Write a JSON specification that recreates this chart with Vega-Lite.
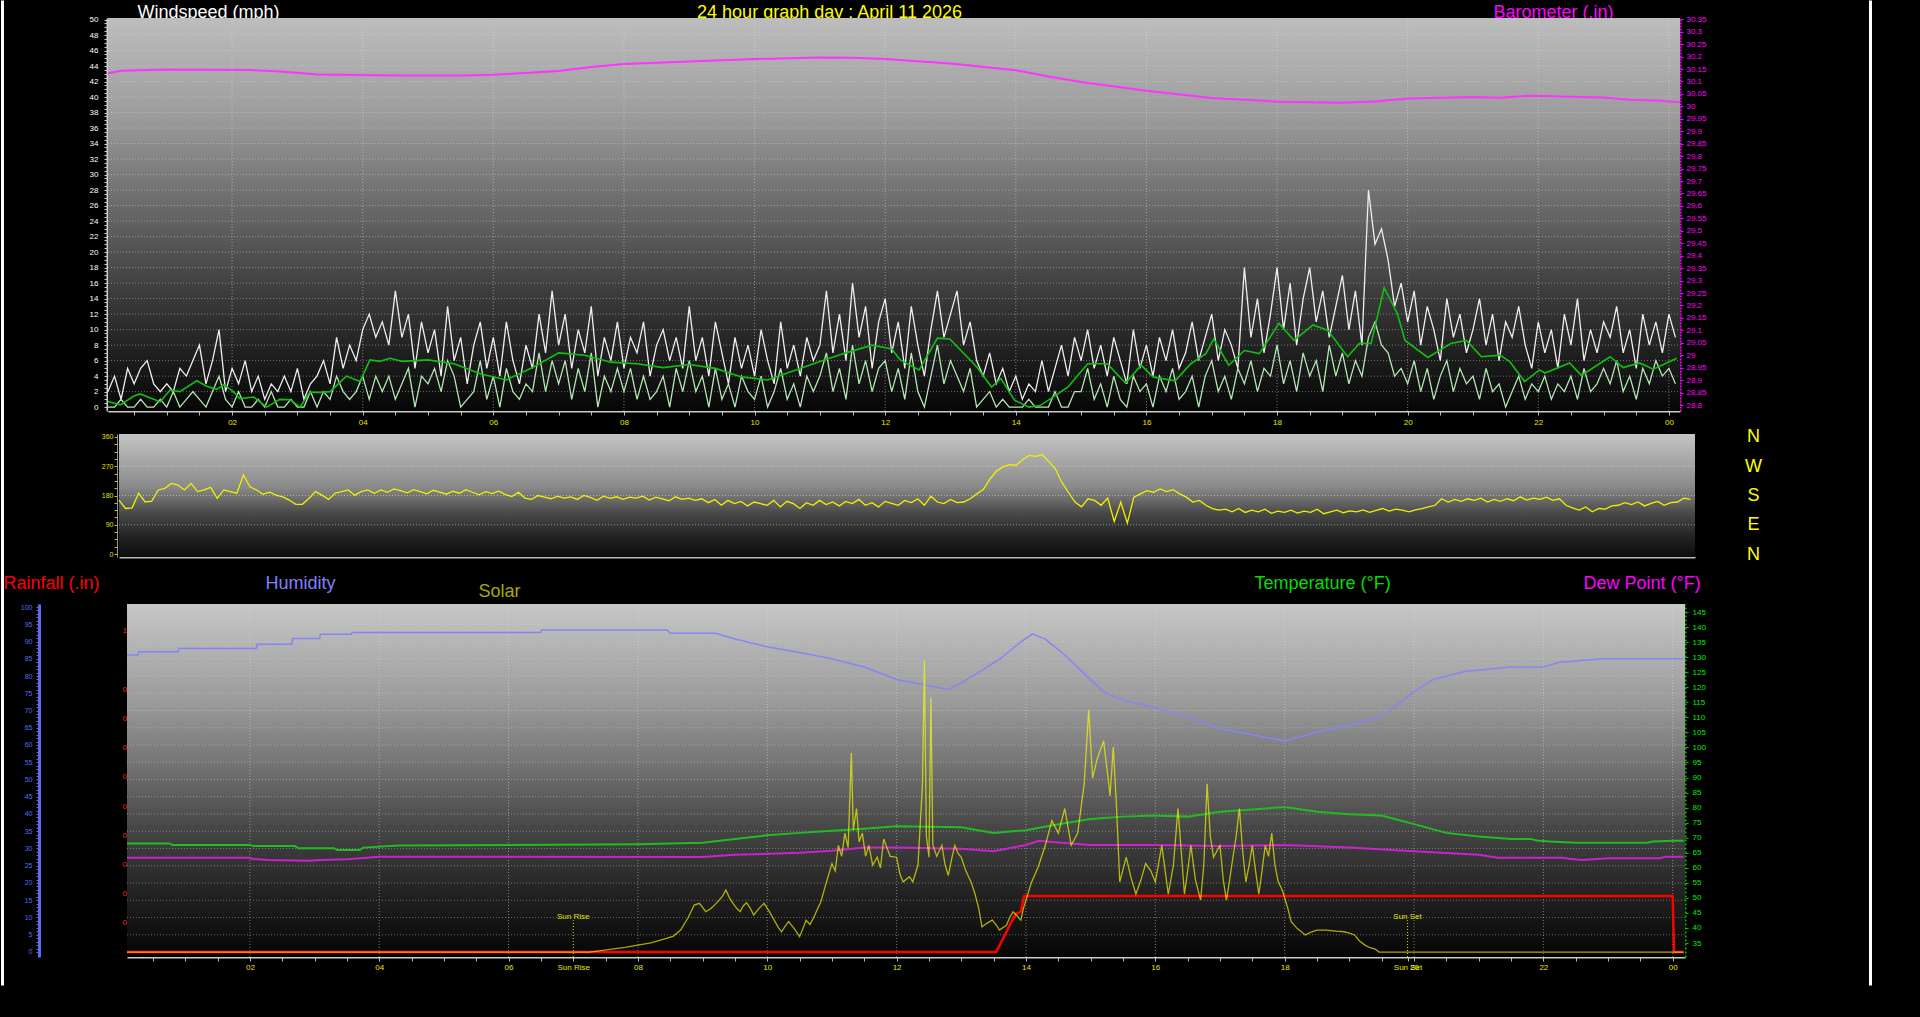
{
"$schema": "https://vega.github.io/schema/vega-lite/v6.json",
"width": 1920, "height": 1017, "padding": 0, "autosize": {"type": "none"},
"background": "#000000",
"config": {"view": {"stroke": null}, "axis": {"labelFont": "Liberation Sans", "titleFont": "Liberation Sans", "titleFontWeight": "normal", "zindex": 1, "labelOverlap": false, "labelFlush": false, "grid": false, "titleAngle": 0, "titleFontSize": 18, "titleBaseline": "alphabetic", "labelFontSize": 8}},
"datasets": {
"wind": [
{"h":0.1,"g":2,"a":0,"d":166},{"h":0.2,"g":4,"a":0,"d":140},{"h":0.3,"g":1,"a":1,"d":142},{"h":0.4,"g":5,"a":0,"d":187},{"h":0.5,"g":3,"a":0,"d":160},{"h":0.6,"g":5,"a":1,"d":163},{"h":0.7,"g":6,"a":0,"d":197},{"h":0.8,"g":3,"a":0,"d":202},{"h":0.9,"g":2,"a":1,"d":217},
{"h":1.0,"g":3,"a":0,"d":212},{"h":1.1,"g":2,"a":2,"d":197},{"h":1.2,"g":5,"a":0,"d":217},{"h":1.3,"g":4,"a":1,"d":192},{"h":1.4,"g":6,"a":2,"d":197},{"h":1.5,"g":8,"a":1,"d":205},{"h":1.6,"g":3,"a":0,"d":171},{"h":1.7,"g":6,"a":2,"d":197},{"h":1.8,"g":10,"a":4,"d":192},{"h":1.9,"g":2,"a":1,"d":187},
{"h":2.0,"g":5,"a":0,"d":243},{"h":2.1,"g":3,"a":2,"d":207},{"h":2.2,"g":6,"a":0,"d":197},{"h":2.3,"g":2,"a":0,"d":184},{"h":2.4,"g":4,"a":1,"d":190},{"h":2.5,"g":1,"a":0,"d":181},{"h":2.6,"g":3,"a":2,"d":176},{"h":2.7,"g":2,"a":0,"d":166},{"h":2.8,"g":4,"a":0,"d":153},{"h":2.9,"g":2,"a":1,"d":153},
{"h":3.0,"g":5,"a":0,"d":171},{"h":3.1,"g":1,"a":0,"d":192},{"h":3.2,"g":3,"a":2,"d":181},{"h":3.3,"g":4,"a":0,"d":168},{"h":3.4,"g":6,"a":2,"d":187},{"h":3.5,"g":3,"a":1,"d":192},{"h":3.6,"g":9,"a":4,"d":197},{"h":3.7,"g":5,"a":2,"d":181},{"h":3.8,"g":8,"a":1,"d":192},{"h":3.9,"g":6,"a":2,"d":197},
{"h":4.0,"g":10,"a":4,"d":187},{"h":4.1,"g":12,"a":1,"d":197},{"h":4.2,"g":9,"a":4,"d":190},{"h":4.3,"g":11,"a":2,"d":200},{"h":4.4,"g":8,"a":4,"d":195},{"h":4.5,"g":15,"a":1,"d":188},{"h":4.6,"g":9,"a":3,"d":198},{"h":4.7,"g":12,"a":5,"d":192},{"h":4.8,"g":5,"a":0,"d":185},{"h":4.9,"g":11,"a":4,"d":196},
{"h":5.0,"g":7,"a":3,"d":190},{"h":5.1,"g":10,"a":5,"d":184},{"h":5.2,"g":4,"a":2,"d":193},{"h":5.3,"g":13,"a":6,"d":187},{"h":5.4,"g":6,"a":4,"d":198},{"h":5.5,"g":9,"a":0,"d":190},{"h":5.6,"g":3,"a":1,"d":182},{"h":5.7,"g":8,"a":2,"d":192},{"h":5.8,"g":11,"a":6,"d":186},{"h":5.9,"g":5,"a":1,"d":194},
{"h":6.0,"g":9,"a":4,"d":183},{"h":6.1,"g":4,"a":0,"d":177},{"h":6.2,"g":11,"a":5,"d":190},{"h":6.3,"g":6,"a":2,"d":172},{"h":6.4,"g":3,"a":1,"d":168},{"h":6.5,"g":8,"a":3,"d":180},{"h":6.6,"g":5,"a":2,"d":175},{"h":6.7,"g":12,"a":7,"d":170},{"h":6.8,"g":7,"a":2,"d":178},{"h":6.9,"g":15,"a":6,"d":172},
{"h":7.0,"g":8,"a":3,"d":176},{"h":7.1,"g":12,"a":6,"d":168},{"h":7.2,"g":5,"a":1,"d":180},{"h":7.3,"g":10,"a":5,"d":174},{"h":7.4,"g":7,"a":2,"d":165},{"h":7.5,"g":13,"a":7,"d":178},{"h":7.6,"g":4,"a":0,"d":171},{"h":7.7,"g":9,"a":4,"d":176},{"h":7.8,"g":6,"a":2,"d":168},{"h":7.9,"g":11,"a":5,"d":175},
{"h":8.0,"g":5,"a":2,"d":172},{"h":8.1,"g":9,"a":5,"d":178},{"h":8.2,"g":7,"a":1,"d":166},{"h":8.3,"g":11,"a":4,"d":175},{"h":8.4,"g":4,"a":1,"d":170},{"h":8.5,"g":8,"a":2,"d":164},{"h":8.6,"g":10,"a":4,"d":176},{"h":8.7,"g":6,"a":0,"d":168},{"h":8.8,"g":9,"a":5,"d":172},{"h":8.9,"g":5,"a":2,"d":165},
{"h":9.0,"g":13,"a":6,"d":170},{"h":9.1,"g":6,"a":2,"d":158},{"h":9.2,"g":9,"a":4,"d":168},{"h":9.3,"g":4,"a":0,"d":150},{"h":9.4,"g":11,"a":5,"d":165},{"h":9.5,"g":7,"a":1,"d":155},{"h":9.6,"g":3,"a":3,"d":162},{"h":9.7,"g":9,"a":0,"d":148},{"h":9.8,"g":5,"a":4,"d":160},{"h":9.9,"g":8,"a":2,"d":155},
{"h":10.0,"g":4,"a":1,"d":150},{"h":10.1,"g":10,"a":4,"d":165},{"h":10.2,"g":6,"a":0,"d":145},{"h":10.3,"g":3,"a":2,"d":162},{"h":10.4,"g":11,"a":5,"d":155},{"h":10.5,"g":5,"a":1,"d":140},{"h":10.6,"g":8,"a":3,"d":158},{"h":10.7,"g":4,"a":0,"d":150},{"h":10.8,"g":9,"a":4,"d":165},{"h":10.9,"g":6,"a":2,"d":152},
{"h":11.0,"g":8,"a":4,"d":160},{"h":11.1,"g":15,"a":7,"d":148},{"h":11.2,"g":7,"a":2,"d":162},{"h":11.3,"g":12,"a":5,"d":155},{"h":11.4,"g":6,"a":1,"d":168},{"h":11.5,"g":16,"a":8,"d":150},{"h":11.6,"g":9,"a":3,"d":158},{"h":11.7,"g":13,"a":6,"d":145},{"h":11.8,"g":5,"a":2,"d":162},{"h":11.9,"g":11,"a":5,"d":156},
{"h":12.0,"g":14,"a":6,"d":150},{"h":12.1,"g":7,"a":2,"d":165},{"h":12.2,"g":11,"a":5,"d":158},{"h":12.3,"g":5,"a":1,"d":170},{"h":12.4,"g":13,"a":7,"d":150},{"h":12.5,"g":8,"a":2,"d":178},{"h":12.6,"g":4,"a":0,"d":160},{"h":12.7,"g":10,"a":4,"d":155},{"h":12.8,"g":15,"a":8,"d":168},{"h":12.9,"g":9,"a":3,"d":158},
{"h":13.0,"g":12,"a":6,"d":160},{"h":13.1,"g":15,"a":4,"d":170},{"h":13.2,"g":8,"a":2,"d":185},{"h":13.3,"g":11,"a":5,"d":198},{"h":13.4,"g":6,"a":0,"d":230},{"h":13.5,"g":4,"a":1,"d":255},{"h":13.6,"g":7,"a":2,"d":268},{"h":13.7,"g":3,"a":0,"d":275},{"h":13.8,"g":5,"a":1,"d":273},{"h":13.9,"g":2,"a":0,"d":290},
{"h":14.0,"g":4,"a":0,"d":303},{"h":14.1,"g":1,"a":0,"d":300},{"h":14.2,"g":3,"a":1,"d":305},{"h":14.3,"g":2,"a":0,"d":285},{"h":14.4,"g":6,"a":0,"d":262},{"h":14.5,"g":2,"a":0,"d":220},{"h":14.6,"g":5,"a":2,"d":190},{"h":14.7,"g":8,"a":0,"d":160},{"h":14.8,"g":4,"a":0,"d":145},{"h":14.9,"g":9,"a":2,"d":170},
{"h":15.0,"g":6,"a":2,"d":165},{"h":15.1,"g":10,"a":5,"d":150},{"h":15.2,"g":5,"a":1,"d":172},{"h":15.3,"g":8,"a":3,"d":100},{"h":15.4,"g":4,"a":0,"d":160},{"h":15.5,"g":9,"a":4,"d":95},{"h":15.6,"g":6,"a":1,"d":175},{"h":15.7,"g":3,"a":0,"d":185},{"h":15.8,"g":10,"a":4,"d":195},{"h":15.9,"g":5,"a":2,"d":190},
{"h":16.0,"g":8,"a":3,"d":200},{"h":16.1,"g":4,"a":0,"d":192},{"h":16.2,"g":9,"a":4,"d":198},{"h":16.3,"g":6,"a":2,"d":185},{"h":16.4,"g":10,"a":5,"d":175},{"h":16.5,"g":5,"a":1,"d":160},{"h":16.6,"g":7,"a":2,"d":165},{"h":16.7,"g":11,"a":4,"d":150},{"h":16.8,"g":6,"a":0,"d":140},{"h":16.9,"g":9,"a":4,"d":135},
{"h":17.0,"g":12,"a":6,"d":138},{"h":17.1,"g":6,"a":2,"d":130},{"h":17.2,"g":10,"a":4,"d":140},{"h":17.3,"g":8,"a":1,"d":128},{"h":17.4,"g":5,"a":5,"d":135},{"h":17.5,"g":18,"a":3,"d":130},{"h":17.6,"g":9,"a":6,"d":138},{"h":17.7,"g":14,"a":2,"d":125},{"h":17.8,"g":7,"a":5,"d":132},{"h":17.9,"g":12,"a":4,"d":128},
{"h":18.0,"g":18,"a":8,"d":135},{"h":18.1,"g":10,"a":3,"d":126},{"h":18.2,"g":16,"a":6,"d":132},{"h":18.3,"g":8,"a":2,"d":128},{"h":18.4,"g":14,"a":7,"d":138},{"h":18.5,"g":18,"a":4,"d":124},{"h":18.6,"g":11,"a":6,"d":130},{"h":18.7,"g":15,"a":2,"d":135},{"h":18.8,"g":9,"a":8,"d":127},{"h":18.9,"g":13,"a":4,"d":133},
{"h":19.0,"g":17,"a":7,"d":130},{"h":19.1,"g":10,"a":3,"d":136},{"h":19.2,"g":15,"a":6,"d":128},{"h":19.3,"g":8,"a":4,"d":134},{"h":19.4,"g":28,"a":9,"d":140},{"h":19.5,"g":21,"a":11,"d":132},{"h":19.6,"g":23,"a":8,"d":138},{"h":19.7,"g":19,"a":7,"d":135},{"h":19.8,"g":13,"a":4,"d":130},{"h":19.9,"g":16,"a":5,"d":136},
{"h":20.0,"g":11,"a":3,"d":140},{"h":20.1,"g":15,"a":6,"d":145},{"h":20.2,"g":8,"a":2,"d":150},{"h":20.3,"g":13,"a":5,"d":170},{"h":20.4,"g":10,"a":1,"d":160},{"h":20.5,"g":6,"a":4,"d":168},{"h":20.6,"g":14,"a":6,"d":162},{"h":20.7,"g":9,"a":2,"d":170},{"h":20.8,"g":12,"a":5,"d":165},{"h":20.9,"g":7,"a":3,"d":172},
{"h":21.0,"g":10,"a":4,"d":160},{"h":21.1,"g":14,"a":1,"d":168},{"h":21.2,"g":8,"a":5,"d":162},{"h":21.3,"g":12,"a":2,"d":170},{"h":21.4,"g":6,"a":3,"d":164},{"h":21.5,"g":11,"a":0,"d":176},{"h":21.6,"g":9,"a":2,"d":166},{"h":21.7,"g":13,"a":4,"d":172},{"h":21.8,"g":8,"a":1,"d":168},{"h":21.9,"g":5,"a":3,"d":175},
{"h":22.0,"g":11,"a":2,"d":165},{"h":22.1,"g":7,"a":4,"d":170},{"h":22.2,"g":10,"a":1,"d":150},{"h":22.3,"g":5,"a":3,"d":142},{"h":22.4,"g":12,"a":2,"d":135},{"h":22.5,"g":8,"a":4,"d":145},{"h":22.6,"g":14,"a":1,"d":130},{"h":22.7,"g":6,"a":5,"d":140},{"h":22.8,"g":10,"a":2,"d":138},{"h":22.9,"g":7,"a":3,"d":148},
{"h":23.0,"g":11,"a":5,"d":150},{"h":23.1,"g":9,"a":3,"d":158},{"h":23.2,"g":13,"a":6,"d":152},{"h":23.3,"g":7,"a":2,"d":160},{"h":23.4,"g":10,"a":4,"d":148},{"h":23.5,"g":5,"a":1,"d":156},{"h":23.6,"g":12,"a":5,"d":162},{"h":23.7,"g":8,"a":3,"d":150},{"h":23.8,"g":11,"a":6,"d":158},{"h":23.9,"g":7,"a":4,"d":160},
{"h":24.0,"g":12,"a":5,"d":172},{"h":24.1,"g":9,"a":3,"d":168}
],
"smooth": [
{"h":0.1,"v":0.73},{"h":0.29,"v":0.3},{"h":0.49,"v":1.4},{"h":0.59,"v":1.7},{"h":0.74,"v":1.2},{"h":0.9,"v":0.7},{"h":1.05,"v":2.2},{"h":1.2,"v":2.0},{"h":1.46,"v":3.4},{"h":1.61,"v":2.7},{"h":1.77,"v":2.3},{"h":1.87,"v":2.9},{"h":2.02,"v":2.0},{"h":2.12,"v":1.1},{"h":2.33,"v":1.3},{"h":2.53,"v":0},{"h":2.73,"v":1.0},{"h":2.89,"v":0.95},{"h":3.04,"v":0},{"h":3.19,"v":1.9},{"h":3.35,"v":1.9},{"h":3.5,"v":2.0},{"h":3.75,"v":4.0},{"h":3.96,"v":3.3},{"h":4.11,"v":6.1},{"h":4.26,"v":5.9},{"h":4.42,"v":6.3},{"h":4.6,"v":5.9},{"h":5.0,"v":6.1},{"h":5.4,"v":5.6},{"h":5.8,"v":4.3},{"h":6.2,"v":3.5},{"h":6.6,"v":5.1},{"h":7.0,"v":7.0},{"h":7.4,"v":6.7},{"h":7.8,"v":5.8},{"h":8.2,"v":5.6},{"h":8.6,"v":5.1},{"h":9.0,"v":5.5},{"h":9.4,"v":5.0},{"h":9.8,"v":3.9},{"h":10.2,"v":3.5},{"h":10.6,"v":4.7},{"h":11.0,"v":5.9},{"h":11.4,"v":7.0},{"h":11.8,"v":8.0},{"h":12.1,"v":7.5},{"h":12.23,"v":6.1},{"h":12.52,"v":4.8},{"h":12.8,"v":8.9},{"h":12.99,"v":8.8},{"h":13.4,"v":5.2},{"h":13.63,"v":2.6},{"h":13.77,"v":3.7},{"h":13.98,"v":0.9},{"h":14.2,"v":0},{"h":14.37,"v":0.2},{"h":14.57,"v":1.3},{"h":14.8,"v":2.6},{"h":15.1,"v":5.6},{"h":15.4,"v":5.6},{"h":15.68,"v":3.1},{"h":15.92,"v":5.4},{"h":16.1,"v":3.9},{"h":16.44,"v":3.4},{"h":16.68,"v":5.6},{"h":16.91,"v":6.9},{"h":17.03,"v":8.8},{"h":17.26,"v":5.4},{"h":17.5,"v":7.3},{"h":17.73,"v":6.9},{"h":18.03,"v":10.8},{"h":18.26,"v":8.6},{"h":18.55,"v":10.6},{"h":18.78,"v":9.9},{"h":19.08,"v":6.5},{"h":19.26,"v":8.2},{"h":19.44,"v":8.2},{"h":19.64,"v":15.4},{"h":19.84,"v":12.1},{"h":19.96,"v":8.6},{"h":20.31,"v":6.4},{"h":20.66,"v":8.2},{"h":20.9,"v":8.6},{"h":21.13,"v":6.5},{"h":21.41,"v":6.7},{"h":21.56,"v":5.9},{"h":21.79,"v":3.3},{"h":22.02,"v":4.8},{"h":22.1,"v":4.4},{"h":22.48,"v":5.7},{"h":22.66,"v":4.1},{"h":23.1,"v":6.5},{"h":23.3,"v":5.1},{"h":23.55,"v":5.7},{"h":23.76,"v":4.9},{"h":24.12,"v":6.3}
],
"baro": [
{"h":0.1,"p":30.133},{"h":0.3,"p":30.143},{"h":1.0,"p":30.148},{"h":2.3,"p":30.146},{"h":2.6,"p":30.142},{"h":3.0,"p":30.135},{"h":3.3,"p":30.128},{"h":4.6,"p":30.124},{"h":5.5,"p":30.124},{"h":6.0,"p":30.127},{"h":7.0,"p":30.142},{"h":7.5,"p":30.158},{"h":8.0,"p":30.17},{"h":9.0,"p":30.18},{"h":10.0,"p":30.19},{"h":11.0,"p":30.196},{"h":11.5,"p":30.195},{"h":12.0,"p":30.19},{"h":13.0,"p":30.172},{"h":14.0,"p":30.145},{"h":14.5,"p":30.12},{"h":15.0,"p":30.098},{"h":16.0,"p":30.063},{"h":17.0,"p":30.034},{"h":18.0,"p":30.019},{"h":19.0,"p":30.014},{"h":19.5,"p":30.02},{"h":20.0,"p":30.032},{"h":21.0,"p":30.038},{"h":21.4,"p":30.035},{"h":21.9,"p":30.043},{"h":22.5,"p":30.039},{"h":23.0,"p":30.036},{"h":23.4,"p":30.027},{"h":23.8,"p":30.024},{"h":24.17,"p":30.017}
],
"hum": [
{"h":0.1,"v":86.1},{"h":0.27,"v":86.1},{"h":0.28,"v":87.0},{"h":0.89,"v":87.0},{"h":0.9,"v":88.0},{"h":2.1,"v":88.0},{"h":2.11,"v":89.2},{"h":2.65,"v":89.2},{"h":2.66,"v":90.9},{"h":3.08,"v":90.9},{"h":3.09,"v":92.1},{"h":3.57,"v":92.1},{"h":3.58,"v":92.6},{"h":6.5,"v":92.6},{"h":6.51,"v":93.3},{"h":8.45,"v":93.3},{"h":8.5,"v":92.4},{"h":9.2,"v":92.4},{"h":9.5,"v":90.7},{"h":10.0,"v":88.5},{"h":10.5,"v":86.8},{"h":11.0,"v":85.0},{"h":11.5,"v":82.6},{"h":12.0,"v":79.0},{"h":12.5,"v":77.2},{"h":12.8,"v":76.1},{"h":13.0,"v":78.0},{"h":13.3,"v":81.4},{"h":13.6,"v":85.0},{"h":13.9,"v":89.6},{"h":14.1,"v":92.2},{"h":14.3,"v":90.7},{"h":14.6,"v":86.1},{"h":14.9,"v":80.7},{"h":15.2,"v":75.4},{"h":15.5,"v":73.0},{"h":16.0,"v":70.8},{"h":16.5,"v":68.3},{"h":17.0,"v":64.8},{"h":17.5,"v":63.0},{"h":18.0,"v":61.2},{"h":18.5,"v":63.7},{"h":19.0,"v":65.8},{"h":19.5,"v":68.3},{"h":20.0,"v":75.4},{"h":20.3,"v":79.0},{"h":20.8,"v":81.4},{"h":21.5,"v":82.6},{"h":22.0,"v":82.6},{"h":22.25,"v":84.0},{"h":22.9,"v":85.0},{"h":24.17,"v":85.0}
],
"temp": [
{"h":0.1,"v":68.1},{"h":0.76,"v":68.1},{"h":0.8,"v":67.6},{"h":2.0,"v":67.6},{"h":2.05,"v":67.2},{"h":2.7,"v":67.2},{"h":2.75,"v":66.5},{"h":3.3,"v":66.5},{"h":3.35,"v":65.9},{"h":3.7,"v":65.9},{"h":3.75,"v":66.7},{"h":4.3,"v":67.4},{"h":6.0,"v":67.6},{"h":8.0,"v":67.8},{"h":9.0,"v":68.3},{"h":9.5,"v":69.6},{"h":10.0,"v":70.8},{"h":10.5,"v":71.6},{"h":11.0,"v":72.3},{"h":11.5,"v":73.0},{"h":12.0,"v":73.8},{"h":13.0,"v":73.5},{"h":13.5,"v":71.6},{"h":14.0,"v":72.5},{"h":14.5,"v":74.5},{"h":15.0,"v":76.2},{"h":15.5,"v":77.0},{"h":16.0,"v":77.4},{"h":16.5,"v":77.0},{"h":17.0,"v":78.6},{"h":17.5,"v":79.4},{"h":18.0,"v":80.2},{"h":18.5,"v":78.6},{"h":19.0,"v":77.8},{"h":19.5,"v":77.4},{"h":20.0,"v":74.5},{"h":20.5,"v":71.6},{"h":21.0,"v":70.4},{"h":21.5,"v":69.6},{"h":21.8,"v":69.6},{"h":21.9,"v":69.1},{"h":22.1,"v":68.7},{"h":22.5,"v":68.3},{"h":23.6,"v":68.3},{"h":23.7,"v":68.7},{"h":24.0,"v":69.0},{"h":24.17,"v":69.0}
],
"dew": [
{"h":0.1,"v":63.3},{"h":2.0,"v":63.3},{"h":2.05,"v":62.9},{"h":2.3,"v":62.6},{"h":2.9,"v":62.3},{"h":3.1,"v":62.6},{"h":3.5,"v":62.8},{"h":4.0,"v":63.7},{"h":9.0,"v":63.6},{"h":9.5,"v":64.3},{"h":10.5,"v":65.0},{"h":11.0,"v":65.7},{"h":11.5,"v":66.7},{"h":12.0,"v":66.7},{"h":13.0,"v":66.3},{"h":13.5,"v":65.5},{"h":14.0,"v":67.6},{"h":14.2,"v":69.0},{"h":14.5,"v":68.4},{"h":15.0,"v":67.6},{"h":16.0,"v":67.6},{"h":17.0,"v":67.2},{"h":18.0,"v":67.6},{"h":19.0,"v":66.7},{"h":20.0,"v":65.5},{"h":21.0,"v":64.3},{"h":21.3,"v":63.3},{"h":22.3,"v":63.3},{"h":22.4,"v":63.0},{"h":22.6,"v":62.6},{"h":23.0,"v":63.2},{"h":23.8,"v":63.2},{"h":23.9,"v":63.7},{"h":24.17,"v":63.7}
],
"rain": [
{"h":0.1,"r":0},{"h":13.54,"r":0},{"h":13.65,"r":0.048},{"h":13.75,"r":0.092},{"h":13.84,"r":0.13},{"h":13.92,"r":0.138},{"h":13.97,"r":0.192},{"h":24.0,"r":0.192},{"h":24.02,"r":0},{"h":24.17,"r":0}
],
"solar": [
{"h":0.1,"s":0},{"h":7.25,"s":0},{"h":7.4,"s":4},{"h":7.57,"s":9},{"h":7.8,"s":16},{"h":8.0,"s":24},{"h":8.2,"s":32},{"h":8.44,"s":47},{"h":8.55,"s":55},{"h":8.66,"s":76},{"h":8.78,"s":120},{"h":8.87,"s":162},{"h":8.95,"s":168},{"h":9.05,"s":139},{"h":9.13,"s":150},{"h":9.21,"s":168},{"h":9.3,"s":190},{"h":9.36,"s":214},{"h":9.42,"s":185},{"h":9.47,"s":168},{"h":9.53,"s":150},{"h":9.58,"s":139},{"h":9.63,"s":160},{"h":9.68,"s":170},{"h":9.74,"s":150},{"h":9.79,"s":128},{"h":9.87,"s":150},{"h":9.95,"s":168},{"h":10.03,"s":140},{"h":10.12,"s":105},{"h":10.17,"s":85},{"h":10.22,"s":70},{"h":10.28,"s":90},{"h":10.33,"s":105},{"h":10.42,"s":80},{"h":10.5,"s":53},{"h":10.55,"s":80},{"h":10.6,"s":110},{"h":10.66,"s":95},{"h":10.72,"s":120},{"h":10.78,"s":150},{"h":10.83,"s":174},{"h":10.9,"s":230},{"h":10.94,"s":260},{"h":11.0,"s":305},{"h":11.05,"s":280},{"h":11.1,"s":368},{"h":11.15,"s":330},{"h":11.2,"s":410},{"h":11.25,"s":360},{"h":11.3,"s":686},{"h":11.33,"s":420},{"h":11.38,"s":495},{"h":11.42,"s":380},{"h":11.47,"s":410},{"h":11.52,"s":330},{"h":11.57,"s":368},{"h":11.63,"s":300},{"h":11.7,"s":327},{"h":11.75,"s":290},{"h":11.8,"s":390},{"h":11.85,"s":360},{"h":11.9,"s":330},{"h":12.0,"s":327},{"h":12.05,"s":270},{"h":12.1,"s":242},{"h":12.2,"s":260},{"h":12.25,"s":242},{"h":12.33,"s":300},{"h":12.4,"s":580},{"h":12.43,"s":1004},{"h":12.46,"s":400},{"h":12.5,"s":327},{"h":12.53,"s":877},{"h":12.56,"s":370},{"h":12.62,"s":330},{"h":12.7,"s":368},{"h":12.75,"s":300},{"h":12.8,"s":264},{"h":12.85,"s":320},{"h":12.9,"s":368},{"h":12.95,"s":340},{"h":13.0,"s":327},{"h":13.07,"s":280},{"h":13.15,"s":242},{"h":13.21,"s":202},{"h":13.27,"s":150},{"h":13.32,"s":87},{"h":13.4,"s":100},{"h":13.48,"s":110},{"h":13.55,"s":90},{"h":13.59,"s":76},{"h":13.65,"s":85},{"h":13.7,"s":93},{"h":13.75,"s":120},{"h":13.8,"s":139},{"h":13.86,"s":125},{"h":13.92,"s":110},{"h":13.96,"s":150},{"h":14.0,"s":179},{"h":14.08,"s":237},{"h":14.19,"s":294},{"h":14.3,"s":368},{"h":14.4,"s":453},{"h":14.5,"s":410},{"h":14.6,"s":495},{"h":14.7,"s":368},{"h":14.8,"s":410},{"h":14.9,"s":580},{"h":14.97,"s":835},{"h":15.03,"s":600},{"h":15.1,"s":665},{"h":15.2,"s":728},{"h":15.27,"s":600},{"h":15.3,"s":538},{"h":15.35,"s":707},{"h":15.4,"s":500},{"h":15.45,"s":242},{"h":15.55,"s":327},{"h":15.62,"s":260},{"h":15.7,"s":200},{"h":15.78,"s":250},{"h":15.85,"s":305},{"h":15.93,"s":280},{"h":16.0,"s":242},{"h":16.1,"s":368},{"h":16.2,"s":200},{"h":16.28,"s":300},{"h":16.35,"s":495},{"h":16.4,"s":350},{"h":16.45,"s":200},{"h":16.5,"s":280},{"h":16.55,"s":368},{"h":16.62,"s":250},{"h":16.7,"s":179},{"h":16.75,"s":300},{"h":16.8,"s":580},{"h":16.85,"s":400},{"h":16.9,"s":327},{"h":17.0,"s":368},{"h":17.05,"s":250},{"h":17.1,"s":179},{"h":17.15,"s":250},{"h":17.2,"s":327},{"h":17.25,"s":400},{"h":17.3,"s":495},{"h":17.35,"s":350},{"h":17.4,"s":242},{"h":17.45,"s":300},{"h":17.5,"s":368},{"h":17.55,"s":280},{"h":17.6,"s":200},{"h":17.65,"s":280},{"h":17.7,"s":368},{"h":17.75,"s":330},{"h":17.8,"s":410},{"h":17.85,"s":300},{"h":17.9,"s":242},{"h":17.95,"s":220},{"h":17.98,"s":202},{"h":18.05,"s":150},{"h":18.1,"s":105},{"h":18.2,"s":80},{"h":18.32,"s":59},{"h":18.42,"s":70},{"h":18.5,"s":76},{"h":18.64,"s":76},{"h":18.8,"s":72},{"h":18.92,"s":70},{"h":19.0,"s":65},{"h":19.08,"s":59},{"h":19.15,"s":40},{"h":19.24,"s":24},{"h":19.32,"s":15},{"h":19.4,"s":10},{"h":19.46,"s":0},{"h":24.17,"s":0}
],
"sun": [{"h":7.0,"t":"Sun Rise"},{"h":19.9,"t":"Sun Set"}],
"gridHours": [{"v":2},{"v":4},{"v":6},{"v":8},{"v":10},{"v":12},{"v":14},{"v":16},{"v":18},{"v":20},{"v":22},{"v":24}],
"gridWind": [{"v":2},{"v":4},{"v":6},{"v":8},{"v":10},{"v":12},{"v":14},{"v":16},{"v":18},{"v":20},{"v":22},{"v":24},{"v":26},{"v":28},{"v":30},{"v":32},{"v":34},{"v":36},{"v":38},{"v":40},{"v":42},{"v":44},{"v":46},{"v":48}],
"gridDir": [{"v":90},{"v":180},{"v":270}],
"gridHum": [{"v":5},{"v":10},{"v":15},{"v":20},{"v":25},{"v":30},{"v":35},{"v":40},{"v":45},{"v":50},{"v":55},{"v":60},{"v":65},{"v":70},{"v":75},{"v":80},{"v":85},{"v":90},{"v":95},{"v":100}]
},
"layer": [
{"data": {"values": [{}]},
 "mark": {"type": "rect", "fill": {"gradient": "linear", "x1": 0, "y1": 0, "x2": 0, "y2": 1, "stops": [{"offset": 0, "color": "#bdbdbd"}, {"offset": 0.25, "color": "#9c9c9c"}, {"offset": 0.45, "color": "#707070"}, {"offset": 0.7, "color": "#3c3c3c"}, {"offset": 0.87, "color": "#1c1c1c"}, {"offset": 1, "color": "#060606"}]}},
 "encoding": {
  "x": {"datum": 0.1, "type": "quantitative", "scale": {"domain": [0.1, 24.17], "range": [108, 1680], "nice": false, "zero": false},
   "axis": {"orient": "bottom", "offset": -606, "values": [0.5,1,1.5,2,2.5,3,3.5,4,4.5,5,5.5,6,6.5,7,7.5,8,8.5,9,9.5,10,10.5,11,11.5,12,12.5,13,13.5,14,14.5,15,15.5,16,16.5,17,17.5,18,18.5,19,19.5,20,20.5,21,21.5,22,22.5,23,23.5,24],
    "labelExpr": "datum.value % 2 === 0 ? (datum.value === 24 ? '00' : (datum.value < 10 ? '0' + datum.value : '' + datum.value)) : ''",
    "labelColor": "#e8e800", "labelPadding": 3, "tickColor": "#bbbbbb", "tickSize": 4, "domainColor": "#cccccc", "domainWidth": 2,
    "title": "24 hour graph day : April 11 2026", "titleX": 829, "titleY": -394, "titleAlign": "center", "titleColor": "#ffff00"}},
  "x2": {"datum": 24.17},
  "y": {"datum": -0.5, "type": "quantitative", "scale": {"domain": [-0.5, 50.2], "range": [411, 18], "nice": false, "zero": false},
   "axis": {"orient": "left", "offset": -107, "values": [0,0.5,1,1.5,2,2.5,3,3.5,4,4.5,5,5.5,6,6.5,7,7.5,8,8.5,9,9.5,10,10.5,11,11.5,12,12.5,13,13.5,14,14.5,15,15.5,16,16.5,17,17.5,18,18.5,19,19.5,20,20.5,21,21.5,22,22.5,23,23.5,24,24.5,25,25.5,26,26.5,27,27.5,28,28.5,29,29.5,30,30.5,31,31.5,32,32.5,33,33.5,34,34.5,35,35.5,36,36.5,37,37.5,38,38.5,39,39.5,40,40.5,41,41.5,42,42.5,43,43.5,44,44.5,45,45.5,46,46.5,47,47.5,48,48.5,49,49.5,50],
    "labelExpr": "datum.value % 2 === 0 ? '' + datum.value : ''", "labelColor": "#ffffff", "labelPadding": 6, "tickSize": 3, "tickColor": "#cccccc", "domainColor": "#cccccc", "domainWidth": 2,
    "title": "Windspeed (mph)", "titleX": 30, "titleY": 17, "titleAlign": "left", "titleColor": "#ffffff"}},
  "y2": {"datum": 50.2}
 }},
{"data": {"name": "gridHours"}, "mark": {"type": "rule", "color": "#e0e0e0", "strokeDash": [1, 2], "opacity": 0.5},
 "encoding": {"x": {"field": "v", "type": "quantitative", "scale": {"domain": [0.1, 24.17], "range": [108, 1680], "nice": false, "zero": false}, "axis": null},
  "y": {"datum": -0.5, "type": "quantitative", "scale": {"domain": [-0.5, 50.2], "range": [411, 18], "nice": false, "zero": false}, "axis": null},
  "y2": {"datum": 50.2}}},
{"data": {"name": "gridWind"}, "mark": {"type": "rule", "color": "#e0e0e0", "strokeDash": [1, 2], "opacity": 0.45},
 "encoding": {"x": {"datum": 0.1, "type": "quantitative", "scale": {"domain": [0.1, 24.17], "range": [108, 1680], "nice": false, "zero": false}, "axis": null},
  "x2": {"datum": 24.17},
  "y": {"field": "v", "type": "quantitative", "scale": {"domain": [-0.5, 50.2], "range": [411, 18], "nice": false, "zero": false}, "axis": null}}},
{"data": {"name": "wind"}, "mark": {"type": "line", "color": "#eeeeee", "strokeWidth": 1.3},
 "encoding": {"x": {"field": "h", "type": "quantitative", "scale": {"domain": [0.1, 24.17], "range": [108, 1680], "nice": false, "zero": false}, "axis": null},
  "y": {"field": "g", "type": "quantitative", "scale": {"domain": [-0.5, 50.2], "range": [411, 18], "nice": false, "zero": false}, "axis": null}}},
{"data": {"name": "wind"}, "mark": {"type": "line", "color": "#b5e6b5", "strokeWidth": 1.3},
 "encoding": {"x": {"field": "h", "type": "quantitative", "scale": {"domain": [0.1, 24.17], "range": [108, 1680], "nice": false, "zero": false}, "axis": null},
  "y": {"field": "a", "type": "quantitative", "scale": {"domain": [-0.5, 50.2], "range": [411, 18], "nice": false, "zero": false}, "axis": null}}},
{"data": {"name": "smooth"}, "mark": {"type": "line", "color": "#10c010", "strokeWidth": 1.6},
 "encoding": {"x": {"field": "h", "type": "quantitative", "scale": {"domain": [0.1, 24.17], "range": [108, 1680], "nice": false, "zero": false}, "axis": null},
  "y": {"field": "v", "type": "quantitative", "scale": {"domain": [-0.5, 50.2], "range": [411, 18], "nice": false, "zero": false}, "axis": null}}},
{"data": {"name": "baro"}, "mark": {"type": "line", "color": "#ff33ff", "strokeWidth": 2},
 "encoding": {"x": {"field": "h", "type": "quantitative", "scale": {"domain": [0.1, 24.17], "range": [108, 1680], "nice": false, "zero": false}, "axis": null},
  "y": {"field": "p", "type": "quantitative", "scale": {"domain": [28.776, 30.355], "range": [411, 18], "nice": false, "zero": false},
   "axis": {"orient": "right", "offset": -240, "values": [28.8,28.85,28.9,28.95,29,29.05,29.1,29.15,29.2,29.25,29.3,29.35,29.4,29.45,29.5,29.55,29.6,29.65,29.7,29.75,29.8,29.85,29.9,29.95,30,30.05,30.1,30.15,30.2,30.25,30.3,30.35],
    "labelExpr": "'' + datum.value", "labelColor": "#ff00ff", "labelPadding": 3, "tickSize": 3, "tickColor": "#ff00ff", "domainColor": "#ff00ff", "domainWidth": 2, "domainDash": [2, 1],
    "title": "Barometer (.in)", "titleX": -67, "titleY": 17, "titleAlign": "right", "titleColor": "#ff00ff"}}}},
{"data": {"values": [{}]},
 "mark": {"type": "rect", "fill": {"gradient": "linear", "x1": 0, "y1": 0, "x2": 0, "y2": 1, "stops": [{"offset": 0, "color": "#c4c4c4"}, {"offset": 0.15, "color": "#b0b0b0"}, {"offset": 0.43, "color": "#8a8a8a"}, {"offset": 0.64, "color": "#4a4a4a"}, {"offset": 0.84, "color": "#222222"}, {"offset": 1, "color": "#0c0c0c"}]}},
 "encoding": {
  "x": {"datum": 0.1, "type": "quantitative", "scale": {"domain": [0.1, 24.17], "range": [119, 1695], "nice": false, "zero": false},
   "axis": {"orient": "bottom", "offset": -460, "labels": false, "ticks": false, "domainColor": "#bbbbbb", "domainWidth": 2, "title": null}},
  "x2": {"datum": 24.17},
  "y": {"datum": -9, "type": "quantitative", "scale": {"domain": [-9, 369], "range": [557, 434], "nice": false, "zero": false},
   "axis": {"orient": "left", "offset": -117, "values": [0,22.5,45,67.5,90,112.5,135,157.5,180,202.5,225,247.5,270,292.5,315,337.5,360],
    "labelExpr": "datum.value % 90 === 0 ? '' + datum.value : ''", "labelColor": "#e0e000", "labelFontSize": 7, "labelPadding": 1, "tickSize": 3, "tickColor": "#c8c800", "domainColor": "#999999", "domainWidth": 1, "title": null}},
  "y2": {"datum": 369}
 }},
{"data": {"name": "gridDir"}, "mark": {"type": "rule", "color": "#e0e0e0", "strokeDash": [1, 2], "opacity": 0.55},
 "encoding": {"x": {"datum": 0.1, "type": "quantitative", "scale": {"domain": [0.1, 24.17], "range": [119, 1695], "nice": false, "zero": false}, "axis": null},
  "x2": {"datum": 24.17},
  "y": {"field": "v", "type": "quantitative", "scale": {"domain": [-9, 369], "range": [557, 434], "nice": false, "zero": false}, "axis": null}}},
{"data": {"name": "wind"}, "mark": {"type": "line", "color": "#f0f000", "strokeWidth": 1.3},
 "encoding": {"x": {"field": "h", "type": "quantitative", "scale": {"domain": [0.1, 24.17], "range": [119, 1695], "nice": false, "zero": false}, "axis": null},
  "y": {"field": "d", "type": "quantitative", "scale": {"domain": [-9, 369], "range": [557, 434], "nice": false, "zero": false},
   "axis": {"orient": "right", "offset": -167, "values": [0, 90, 180, 270, 360], "labelExpr": "datum.value === 90 ? 'E' : datum.value === 180 ? 'S' : datum.value === 270 ? 'W' : 'N'",
    "labelAlign": "center", "labelBaseline": "middle", "labelFontSize": 18, "labelColor": "#ffff00", "labelPadding": 0, "ticks": false, "tickSize": 0, "domain": false, "title": null}}}},
{"data": {"values": [{}]},
 "mark": {"type": "rect", "fill": {"gradient": "linear", "x1": 0, "y1": 0, "x2": 0, "y2": 1, "stops": [{"offset": 0, "color": "#c6c6c6"}, {"offset": 0.28, "color": "#9a9a9a"}, {"offset": 0.44, "color": "#777777"}, {"offset": 0.63, "color": "#474747"}, {"offset": 0.82, "color": "#222222"}, {"offset": 1, "color": "#050505"}]}},
 "encoding": {
  "x": {"datum": 0.1, "type": "quantitative", "scale": {"domain": [0.1, 24.19], "range": [127, 1685], "nice": false, "zero": false},
   "axis": {"orient": "bottom", "offset": -60, "values": [0.5,1,1.5,2,2.5,3,3.5,4,4.5,5,5.5,6,6.5,7,7.5,8,8.5,9,9.5,10,10.5,11,11.5,12,12.5,13,13.5,14,14.5,15,15.5,16,16.5,17,17.5,18,18.5,19,19.5,20,20.5,21,21.5,22,22.5,23,23.5,24,19.9],
    "labelExpr": "datum.value === 7 ? 'Sun Rise' : datum.value === 19.9 ? 'Sun Set' : (datum.value % 2 === 0 ? (datum.value === 24 ? '00' : (datum.value < 10 ? '0' + datum.value : '' + datum.value)) : '')",
    "labelColor": "#e8e800", "labelPadding": 2, "tickColor": "#bbbbbb", "tickSize": 4, "domainColor": "#cccccc", "domainWidth": 2, "title": null}},
  "x2": {"datum": 24.19},
  "y": {"datum": -1.45, "type": "quantitative", "scale": {"domain": [-1.45, 100.87], "range": [957, 604], "nice": false, "zero": false},
   "axis": {"orient": "left", "offset": -39, "values": [0,1,2,3,4,5,6,7,8,9,10,11,12,13,14,15,16,17,18,19,20,21,22,23,24,25,26,27,28,29,30,31,32,33,34,35,36,37,38,39,40,41,42,43,44,45,46,47,48,49,50,51,52,53,54,55,56,57,58,59,60,61,62,63,64,65,66,67,68,69,70,71,72,73,74,75,76,77,78,79,80,81,82,83,84,85,86,87,88,89,90,91,92,93,94,95,96,97,98,99,100],
    "labelExpr": "datum.value % 5 === 0 ? '' + datum.value : ''", "labelColor": "#5a6cf0", "labelFontSize": 7, "labelPadding": 4, "tickSize": 3, "tickColor": "#5a6cf0", "domainColor": "#5a6cf0", "domainWidth": 3,
    "title": "Humidity", "titleX": 226, "titleY": 588, "titleAlign": "left", "titleColor": "#8080ff"}},
  "y2": {"datum": 100.87}
 }},
{"data": {"name": "gridHours"}, "mark": {"type": "rule", "color": "#e0e0e0", "strokeDash": [1, 2], "opacity": 0.5},
 "encoding": {"x": {"field": "v", "type": "quantitative", "scale": {"domain": [0.1, 24.19], "range": [127, 1685], "nice": false, "zero": false}, "axis": null},
  "y": {"datum": -1.45, "type": "quantitative", "scale": {"domain": [-1.45, 100.87], "range": [957, 604], "nice": false, "zero": false}, "axis": null},
  "y2": {"datum": 100.87}}},
{"data": {"name": "gridHum"}, "mark": {"type": "rule", "color": "#e0e0e0", "strokeDash": [1, 2], "opacity": 0.4},
 "encoding": {"x": {"datum": 0.1, "type": "quantitative", "scale": {"domain": [0.1, 24.19], "range": [127, 1685], "nice": false, "zero": false}, "axis": null},
  "x2": {"datum": 24.19},
  "y": {"field": "v", "type": "quantitative", "scale": {"domain": [-1.45, 100.87], "range": [957, 604], "nice": false, "zero": false}, "axis": null}}},
{"data": {"name": "hum"}, "mark": {"type": "line", "color": "#8585f5", "strokeWidth": 1.5},
 "encoding": {"x": {"field": "h", "type": "quantitative", "scale": {"domain": [0.1, 24.19], "range": [127, 1685], "nice": false, "zero": false}, "axis": null},
  "y": {"field": "v", "type": "quantitative", "scale": {"domain": [-1.45, 100.87], "range": [957, 604], "nice": false, "zero": false}, "axis": null}}},
{"data": {"name": "temp"}, "mark": {"type": "line", "color": "#22bb22", "strokeWidth": 2},
 "encoding": {"x": {"field": "h", "type": "quantitative", "scale": {"domain": [0.1, 24.19], "range": [127, 1685], "nice": false, "zero": false}, "axis": null},
  "y": {"field": "v", "type": "quantitative", "scale": {"domain": [30.35, 147.66], "range": [957, 604], "nice": false, "zero": false},
   "axis": {"orient": "right", "offset": -235, "values": [35,40,45,50,55,60,65,70,75,80,85,90,95,100,105,110,115,120,125,130,135,140,145],
    "labelColor": "#00ee00", "labelPadding": 4, "tickSize": 3, "tickColor": "#00c000", "domainColor": "#00c000", "domainWidth": 2, "domainDash": [2, 2],
    "title": "Temperature (°F)", "titleX": -431, "titleY": 588, "titleAlign": "left", "titleColor": "#00dd00"}}}},
{"data": {"name": "dew"}, "mark": {"type": "line", "color": "#cc22cc", "strokeWidth": 2},
 "encoding": {"x": {"field": "h", "type": "quantitative", "scale": {"domain": [0.1, 24.19], "range": [127, 1685], "nice": false, "zero": false}, "axis": null},
  "y": {"field": "v", "type": "quantitative", "scale": {"domain": [30.35, 147.66], "range": [957, 604], "nice": false, "zero": false},
   "axis": {"orient": "right", "offset": -235, "labels": false, "ticks": false, "domain": false,
    "title": "Dew Point (°F)", "titleX": -102, "titleY": 588, "titleAlign": "left", "titleColor": "#ff00ff"}}}},
{"data": {"name": "rain"}, "mark": {"type": "line", "color": "#ff0000", "strokeWidth": 2.5},
 "encoding": {"x": {"field": "h", "type": "quantitative", "scale": {"domain": [0.1, 24.19], "range": [127, 1685], "nice": false, "zero": false}, "axis": null},
  "y": {"field": "r", "type": "quantitative", "scale": {"domain": [-0.0171, 1.1918], "range": [957, 604], "nice": false, "zero": false},
   "axis": {"orient": "left", "offset": -142, "values": [0,0.025,0.05,0.075,0.1,0.125,0.15,0.175,0.2,0.225,0.25,0.275,0.3,0.325,0.35,0.375,0.4,0.425,0.45,0.475,0.5,0.525,0.55,0.575,0.6,0.625,0.65,0.675,0.7,0.725,0.75,0.775,0.8,0.825,0.85,0.875,0.9,0.925,0.95,0.975,1,1.025,1.05,1.075,1.1,1.125,1.15,1.175],
    "labelExpr": "abs(datum.value * 10 - round(datum.value * 10)) < 0.01 ? '' + (round(datum.value * 10) / 10) : ''", "labelColor": "#ff2020", "labelPadding": 6, "tickSize": 3, "tickColor": "#ff0000", "domainColor": "#ffffff", "domainWidth": 2,
    "title": "Rainfall (.in)", "titleX": -139, "titleY": 588, "titleAlign": "left", "titleColor": "#ff0000"}}}},
{"data": {"name": "solar"}, "mark": {"type": "line", "color": "#ffff00", "strokeWidth": 1.3, "opacity": 0.65},
 "encoding": {"x": {"field": "h", "type": "quantitative", "scale": {"domain": [0.1, 24.19], "range": [127, 1685], "nice": false, "zero": false}, "axis": null},
  "y": {"field": "s", "type": "quantitative", "scale": {"domain": [-17, 1200], "range": [957, 604], "nice": false, "zero": false},
   "axis": {"orient": "left", "offset": 0, "labels": false, "ticks": false, "domain": false, "title": "Solar", "titleX": 478, "titleY": 596, "titleAlign": "left", "titleColor": "#a8a800"}}}},
{"data": {"name": "sun"}, "mark": {"type": "rule", "color": "#e0e000", "strokeDash": [1, 2], "strokeWidth": 1},
 "encoding": {"x": {"field": "h", "type": "quantitative", "scale": {"domain": [0.1, 24.19], "range": [127, 1685], "nice": false, "zero": false}, "axis": null},
  "y": {"datum": -17, "type": "quantitative", "scale": {"domain": [-17, 1200], "range": [957, 604], "nice": false, "zero": false}, "axis": null},
  "y2": {"datum": 110}}},
{"data": {"name": "sun"}, "mark": {"type": "text", "color": "#e0e000", "fontSize": 8, "font": "Liberation Sans", "baseline": "middle", "align": "center"},
 "encoding": {"x": {"field": "h", "type": "quantitative", "scale": {"domain": [0.1, 24.19], "range": [127, 1685], "nice": false, "zero": false}, "axis": null},
  "y": {"datum": 121, "type": "quantitative", "scale": {"domain": [-17, 1200], "range": [957, 604], "nice": false, "zero": false}, "axis": null},
  "text": {"field": "t"}}},
{"data": {"name": "sun"}, "mark": {"type": "point", "opacity": 0},
 "encoding": {"x": {"field": "h", "type": "quantitative", "scale": {"domain": [0, 1920], "range": [0, 1920], "nice": false, "zero": false}, "axis": null},
  "y": {"datum": 0, "type": "quantitative", "scale": {"domain": [0, 1], "range": [985, 0], "nice": false, "zero": false},
   "axis": {"orient": "left", "offset": -2, "labels": false, "ticks": false, "domainColor": "#ffffff", "domainWidth": 3, "title": null}}}},
{"data": {"name": "sun"}, "mark": {"type": "point", "opacity": 0},
 "encoding": {"x": {"field": "h", "type": "quantitative", "scale": {"domain": [0, 1920], "range": [0, 1920], "nice": false, "zero": false}, "axis": null},
  "y": {"datum": 0, "type": "quantitative", "scale": {"domain": [0, 1], "range": [985, 0], "nice": false, "zero": false},
   "axis": {"orient": "right", "offset": -50, "labels": false, "ticks": false, "domainColor": "#ffffff", "domainWidth": 3, "title": null}}}}
],
"resolve": {"scale": {"x": "independent", "y": "independent"}, "axis": {"x": "independent", "y": "independent"}}
}
